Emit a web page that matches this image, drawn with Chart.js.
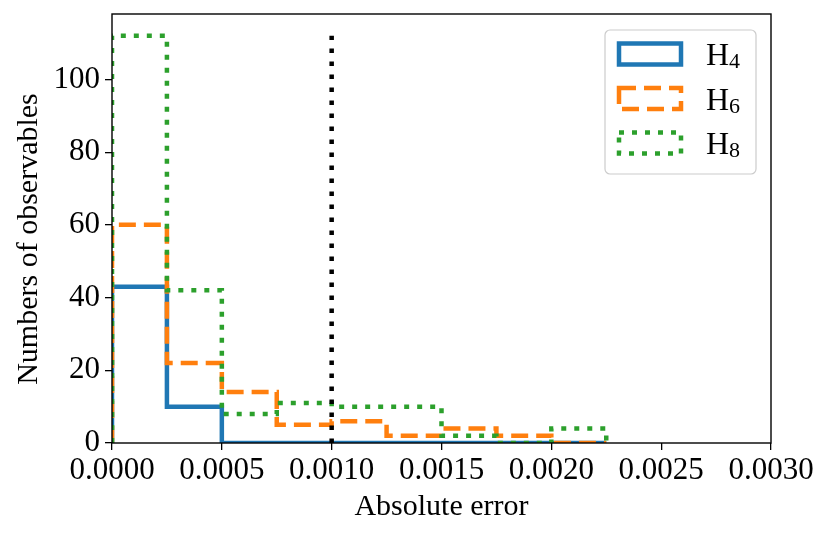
<!DOCTYPE html>
<html>
<head>
<meta charset="utf-8">
<script src="https://cdn.jsdelivr.net/npm/chart.js@4.4.1/dist/chart.umd.min.js"></script>
<style>
  html, body { margin: 0; padding: 0; background: #fff; }
  #wrap { width: 830px; height: 537px; }
</style>
</head>
<body>
<div id="wrap"><canvas id="chart" width="830" height="537"></canvas></div>
<script>
// bin edges of the histograms (absolute error)
const binEdges = [0, 0.00025, 0.0005, 0.00075, 0.001, 0.00125, 0.0015, 0.00175, 0.002, 0.00225];
// counts per bin
const h4Counts = [43, 10, 0, 0, 0, 0, 0, 0, 0];
const h6Counts = [60, 22, 14, 5, 6, 2, 4, 2, 0];
const h8Counts = [112, 42, 8, 11, 10, 10, 2, 0, 4];
const seriesNames = ['H_4', 'H_6', 'H_8'];
// threshold line
const thresholdX = 0.001;
const thresholdTop = 112;
const xTicks = [0, 0.0005, 0.001, 0.0015, 0.002, 0.0025, 0.003];
const yTicks = [0, 20, 40, 60, 80, 100];
const yTitle = 'Numbers of observables';

const FONT = "'Liberation Serif', 'Times New Roman', serif";
const colors = ['#1f77b4', '#ff7f0e', '#2ca02c'];
const dashes = [[], [17, 8], [5, 8]];

// outline of a step histogram: start on the axis, then one point per bin edge, end on the axis
function stepPoints(counts) {
  const pts = [{ x: binEdges[0], y: 0 }];
  counts.forEach((c, i) => pts.push({ x: binEdges[i], y: c }));
  pts.push({ x: binEdges[binEdges.length - 1], y: 0 });
  return pts;
}

function histDataset(counts, i) {
  return {
    label: seriesNames[i],
    data: stepPoints(counts),
    stepped: 'before',
    borderColor: colors[i],
    borderWidth: 4.5,
    borderDash: dashes[i],
    borderCapStyle: 'butt',
    borderJoinStyle: 'miter',
    pointRadius: 0,
    fill: false,
    clip: 0,
    order: 3 - i
  };
}

// frame around the axes, drawn over the lines like matplotlib spines
const framePlugin = {
  id: 'frame',
  afterDatasetsDraw(chart) {
    const { ctx, chartArea: a } = chart;
    ctx.save();
    ctx.strokeStyle = '#000';
    ctx.lineWidth = 1.4;
    ctx.strokeRect(a.left, a.top, a.right - a.left, a.bottom - a.top);
    ctx.restore();
  }
};

// y axis label, centred a little below the middle like the reference
const yTitlePlugin = {
  id: 'yTitle',
  afterDraw(chart) {
    const ctx = chart.ctx;
    ctx.save();
    ctx.translate(29, 239);
    ctx.rotate(-Math.PI / 2);
    ctx.fillStyle = '#000';
    ctx.font = '30px ' + FONT;
    ctx.textAlign = 'center';
    ctx.textBaseline = 'middle';
    ctx.fillText(yTitle, 0, 0);
    ctx.restore();
  }
};

// legend box with outlined patches and subscripted labels
const legendPlugin = {
  id: 'histLegend',
  afterDraw(chart) {
    const ctx = chart.ctx;
    const a = chart.chartArea;
    const boxR = a.right - 15, boxT = a.top + 16;
    const boxW = 151, boxH = 144;
    const boxL = boxR - boxW;
    ctx.save();
    ctx.fillStyle = 'rgba(255,255,255,0.8)';
    ctx.strokeStyle = '#cccccc';
    ctx.lineWidth = 1.2;
    ctx.beginPath();
    ctx.roundRect(boxL, boxT, boxW, boxH, 5);
    ctx.fill();
    ctx.stroke();
    chart.data.datasets.slice(0, 3).forEach((ds, i) => {
      const cy = boxT + 24 + i * 44.5;
      ctx.strokeStyle = ds.borderColor;
      ctx.lineWidth = 4.5;
      ctx.lineJoin = 'miter';
      ctx.lineCap = 'butt';
      ctx.setLineDash(ds.borderDash);
      ctx.strokeRect(boxL + 14, cy - 10.5, 62, 21);
      ctx.setLineDash([]);
      const [base, sub] = ds.label.split('_');
      ctx.fillStyle = '#000';
      ctx.textBaseline = 'alphabetic';
      ctx.textAlign = 'left';
      ctx.font = '32px ' + FONT;
      const tx = boxL + 101;
      ctx.fillText(base, tx, cy + 11);
      const w = ctx.measureText(base).width;
      ctx.font = '22px ' + FONT;
      ctx.fillText(sub, tx + w, cy + 14);
    });
    ctx.restore();
  }
};

const datasets = [h4Counts, h6Counts, h8Counts].map(histDataset);
datasets.push({
  label: 'threshold',
  data: [{ x: thresholdX, y: 0 }, { x: thresholdX, y: thresholdTop }],
  borderColor: '#000',
  borderWidth: 4.5,
  borderDash: [4.5, 8.5],
  borderCapStyle: 'butt',
  pointRadius: 0,
  fill: false,
  clip: 0,
  order: 0
});

const tickFont = { family: FONT, size: 31 };

new Chart(document.getElementById('chart'), {
  type: 'line',
  data: { datasets },
  plugins: [framePlugin, legendPlugin, yTitlePlugin],
  options: {
    responsive: false,
    animation: false,
    devicePixelRatio: 1,
    layout: { padding: { top: 14, right: 59, left: 0, bottom: 0 } },
    plugins: { legend: { display: false }, tooltip: { enabled: false } },
    scales: {
      x: {
        type: 'linear',
        min: 0,
        max: 0.003,
        afterFit(s) { s.height = 94; s.paddingLeft = 0; s.paddingRight = 0; },
        afterBuildTicks(s) { s.ticks = xTicks.map(v => ({ value: v })); },
        border: { display: false },
        grid: { display: true, drawOnChartArea: false, drawTicks: true, tickLength: 7, color: '#000', lineWidth: 1.3 },
        ticks: {
          color: '#000',
          font: tickFont,
          padding: 2,
          maxRotation: 0,
          autoSkip: false,
          callback: v => v.toFixed(4)
        },
        title: {
          display: true,
          text: 'Absolute error',
          color: '#000',
          font: { family: FONT, size: 30 },
          padding: { top: 0, bottom: 12 }
        }
      },
      y: {
        type: 'linear',
        min: 0,
        max: 118,
        afterFit(s) { s.width = 112; s.paddingTop = 0; s.paddingBottom = 0; },
        afterBuildTicks(s) { s.ticks = yTicks.map(v => ({ value: v })); },
        border: { display: false },
        grid: { display: true, drawOnChartArea: false, drawTicks: true, tickLength: 7, color: '#000', lineWidth: 1.3 },
        ticks: {
          color: '#000',
          font: tickFont,
          padding: 5,
          autoSkip: false
        },
        title: { display: false }
      }
    }
  }
});
</script>
</body>
</html>
